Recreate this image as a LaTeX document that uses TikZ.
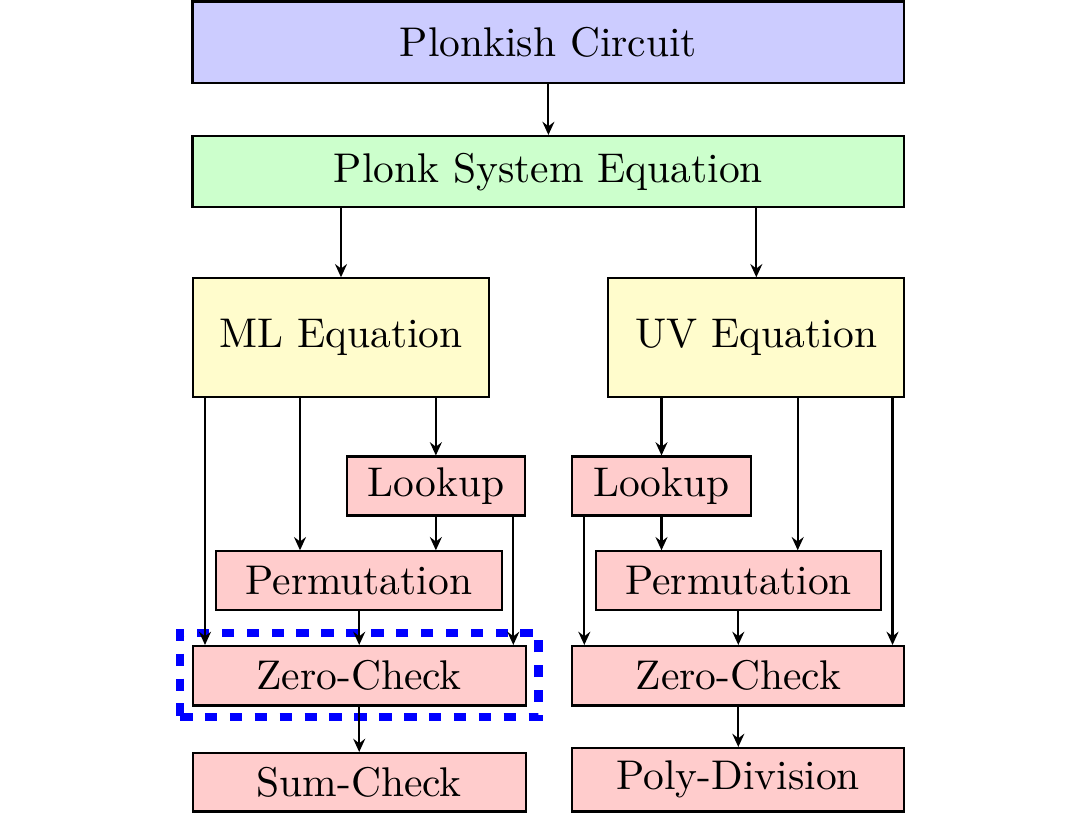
\documentclass[tikz,border=0pt]{standalone}
\usetikzlibrary{arrows.meta}
\newcommand\mkbox[7]{\node[box,fill=#6,minimum width={(#3-#1)*0.241pt},minimum height={(#4-#2)*0.241pt}] (#5) at ({(#1+#3)/2},{(#2+#4)/2}) {#7};}
\begin{document}
\begin{tikzpicture}[x=0.241pt,y=-0.241pt,
  box/.style={draw=black, line width=0.5pt, inner sep=0pt},
  arr/.style={-{Stealth[length=3.2pt,width=2.9pt,inset=1.1pt]}, line width=0.5pt},
  hilite/.style={draw=blue, line width=2pt, dashed, inner sep=0pt}]
\useasboundingbox (0,0) rectangle (1082,813);
\mkbox{192.5}{1.5}{904.3}{83.3}{pc}{blue!20}{Plonkish Circuit}
\mkbox{192.5}{136}{904.3}{207.3}{ps}{green!20}{Plonk System Equation}
\mkbox{192.7}{278.3}{489.3}{397}{ml}{yellow!20}{ML Equation}
\mkbox{608.3}{278.3}{904.3}{397}{uv}{yellow!20}{UV Equation}
\mkbox{346.7}{456.5}{525}{515.5}{lkl}{red!20}{Lookup}
\mkbox{572.3}{456.5}{750.7}{515.5}{lkr}{red!20}{Lookup}
\mkbox{216}{551.3}{501.7}{610}{pml}{red!20}{Permutation}
\mkbox{596}{551.3}{881}{610}{pmr}{red!20}{Permutation}
\mkbox{192.7}{646}{525.7}{705.5}{zcl}{red!20}{Zero-Check}
\mkbox{572.3}{646}{904.3}{705.5}{zcr}{red!20}{Zero-Check}
\mkbox{192.7}{753}{525.7}{811.5}{sc}{red!20}{Sum-Check}
\mkbox{572.3}{748}{904.3}{811.5}{pd}{red!20}{Poly-Division}
\node[hilite, minimum width={358.5*0.241pt}, minimum height={84*0.241pt}] (hl) at (359.3,675) {};
% x positions of connectors
\coordinate (xa) at (205,0);
\coordinate (xb) at (300,0);
\coordinate (xc) at (513.3,0);
\coordinate (xd) at (584.3,0);
\coordinate (xe) at (797.7,0);
\coordinate (xf) at (892.5,0);
\draw[arr] (pc.south) -- (pc.south |- ps.north);
\draw[arr] (ml.north |- ps.south) -- (ml.north);
\draw[arr] (uv.north |- ps.south) -- (uv.north);
\draw[arr] (ml.south -| xa) -- (zcl.north -| xa);
\draw[arr] (ml.south -| xb) -- (pml.north -| xb);
\draw[arr] (lkl.north |- ml.south) -- (lkl.north);
\draw[arr] (lkl.south) -- (lkl.south |- pml.north);
\draw[arr] (lkl.south -| xc) -- (zcl.north -| xc);
\draw[arr] (zcl.north |- pml.south) -- (zcl.north);
\draw[arr] (zcl.south) -- (zcl.south |- sc.north);
\draw[arr] (lkr.north |- uv.south) -- (lkr.north);
\draw[arr] (uv.south -| xe) -- (pmr.north -| xe);
\draw[arr] (uv.south -| xf) -- (zcr.north -| xf);
\draw[arr] (lkr.south -| xd) -- (zcr.north -| xd);
\draw[arr] (lkr.south) -- (lkr.south |- pmr.north);
\draw[arr] (zcr.north |- pmr.south) -- (zcr.north);
\draw[arr] (zcr.south) -- (zcr.south |- pd.north);
\end{tikzpicture}
\end{document}
